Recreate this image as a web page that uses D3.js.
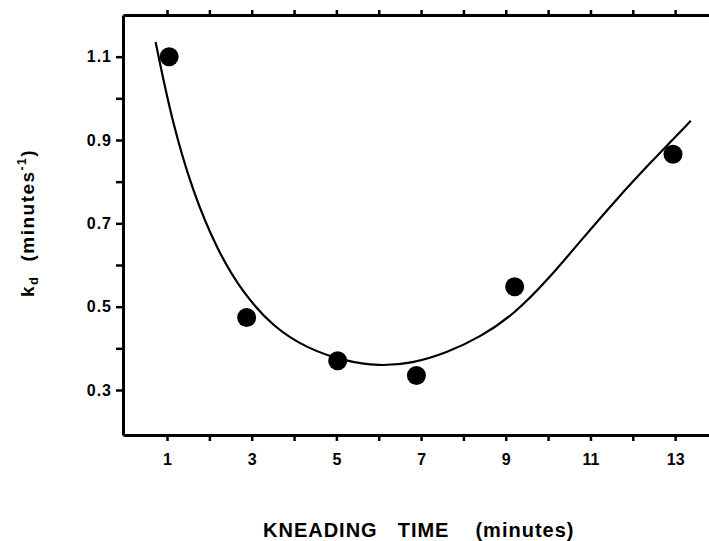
<meta charset="utf-8">
<script src="https://d3js.org/d3.v7.min.js"></script>
<style>
body { margin: 0; background: #fff; }
text { font-family: "Liberation Sans", Arial, sans-serif; font-weight: bold; fill: #000; }
</style>
<body>
<div id="chart"></div>
<script>

// measured points (kneading time, kd)
var kneadTime = [1.05, 2.88, 5.03, 6.89, 9.21, 12.95]
var kdValues  = [1.10, 0.474, 0.37, 0.335, 0.548, 0.866]

// fitted curve
var curveTime = [0.73, 1.1, 1.6, 2.2, 2.8, 3.5, 4.3, 5.2, 6.0, 6.8, 7.6, 8.4, 9.2, 10.0, 10.8, 11.6, 12.4, 13.37]
var curveKd   = [1.135, 0.952, 0.777, 0.632, 0.532, 0.452, 0.400, 0.369, 0.357, 0.364, 0.389, 0.427, 0.482, 0.565, 0.662, 0.756, 0.844, 0.946]

var xTicks = [1, 2, 3, 4, 5, 6, 7, 8, 9, 10, 11, 12, 13]
var xLabels = [1, 3, 5, 7, 9, 11, 13]
var yTicks = [0.3, 0.4, 0.5, 0.6, 0.7, 0.8, 0.9, 1.0, 1.1]
var yLabels = [0.3, 0.5, 0.7, 0.9, 1.1]

var width = 709
var height = 541
var margin = {top: 15, right: 0, bottom: 106, left: 123}

var svg = d3.select("#chart")
  .append("svg")
    .attr("width", width)
    .attr("height", height)

var x = d3.scaleLinear()
  .domain([-0.04, 13.8])
  .range([margin.left, width - margin.right])

var y = d3.scaleLinear()
  .domain([0.192, 1.2])
  .range([height - margin.bottom, margin.top])

// bottom axis
svg.append("g")
  .attr("transform", "translate(0," + (height - margin.bottom) + ")")
  .call(d3.axisBottom(x)
    .tickValues(xTicks)
    .tickSize(6)
    .tickPadding(13)
    .tickSizeOuter(0)
    .tickFormat(function(d){ return xLabels.indexOf(d) >= 0 ? d : "" }))
  .call(function(g){
    g.select(".domain").attr("stroke-width", 3)
    g.selectAll(".tick line").attr("stroke-width", 2.5)
    g.selectAll(".tick text").attr("font-size", "16px").attr("font-family", null)
  })

// top axis, ticks only
svg.append("g")
  .attr("transform", "translate(0," + margin.top + ")")
  .call(d3.axisTop(x)
    .tickValues(xTicks)
    .tickSize(5)
    .tickSizeOuter(0)
    .tickFormat(""))
  .call(function(g){
    g.select(".domain").attr("stroke-width", 3)
    g.selectAll(".tick line").attr("stroke-width", 2.5)
  })

// left axis
svg.append("g")
  .attr("transform", "translate(" + margin.left + ",0)")
  .call(d3.axisLeft(y)
    .tickValues(yTicks)
    .tickSize(7)
    .tickPadding(4)
    .tickSizeOuter(0)
    .tickFormat(function(d){ return yLabels.some(function(v){ return Math.abs(v - d) < 1e-6 }) ? d3.format(".1f")(d) : "" }))
  .call(function(g){
    g.select(".domain").attr("stroke-width", 3)
    g.selectAll(".tick line").attr("stroke-width", 2.5)
    g.selectAll(".tick text").attr("font-size", "16px").attr("font-family", null).attr("letter-spacing", "1px")
  })

// fitted curve
var line = d3.line()
  .x(function(d){ return x(d[0]) })
  .y(function(d){ return y(d[1]) })
  .curve(d3.curveBasis)

svg.append("path")
  .datum(curveTime.map(function(t, i){ return [t, curveKd[i]] }))
  .attr("d", line)
  .attr("fill", "none")
  .attr("stroke", "#000")
  .attr("stroke-width", 2.2)

// data points
svg.append("g")
  .selectAll("circle")
  .data(kneadTime)
  .enter()
  .append("circle")
    .attr("cx", function(d){ return x(d) })
    .attr("cy", function(d, i){ return y(kdValues[i]) })
    .attr("r", 9.5)
    .attr("fill", "#000")

// x axis title
var xt = svg.append("text")
  .attr("x", 263)
  .attr("y", 537)
  .attr("font-size", "20px")
  .attr("letter-spacing", "1px")
xt.append("tspan").text("KNEADING")
xt.append("tspan").attr("dx", 20).text("TIME")
xt.append("tspan").attr("dx", 26).text("(minutes)")

// y axis title
var yt = svg.append("text")
  .attr("transform", "translate(34,223) rotate(-90)")
  .attr("text-anchor", "middle")
  .attr("font-size", "19px")
  .attr("letter-spacing", "1.5px")
yt.append("tspan").text("k")
yt.append("tspan").attr("font-size", "13px").attr("dy", 4).text("d")
yt.append("tspan").attr("dy", -4).attr("dx", 14).text("(minutes")
yt.append("tspan").attr("font-size", "12px").attr("dy", -8).text("-1")
yt.append("tspan").attr("dy", 8).text(")")

</script>
</body>
